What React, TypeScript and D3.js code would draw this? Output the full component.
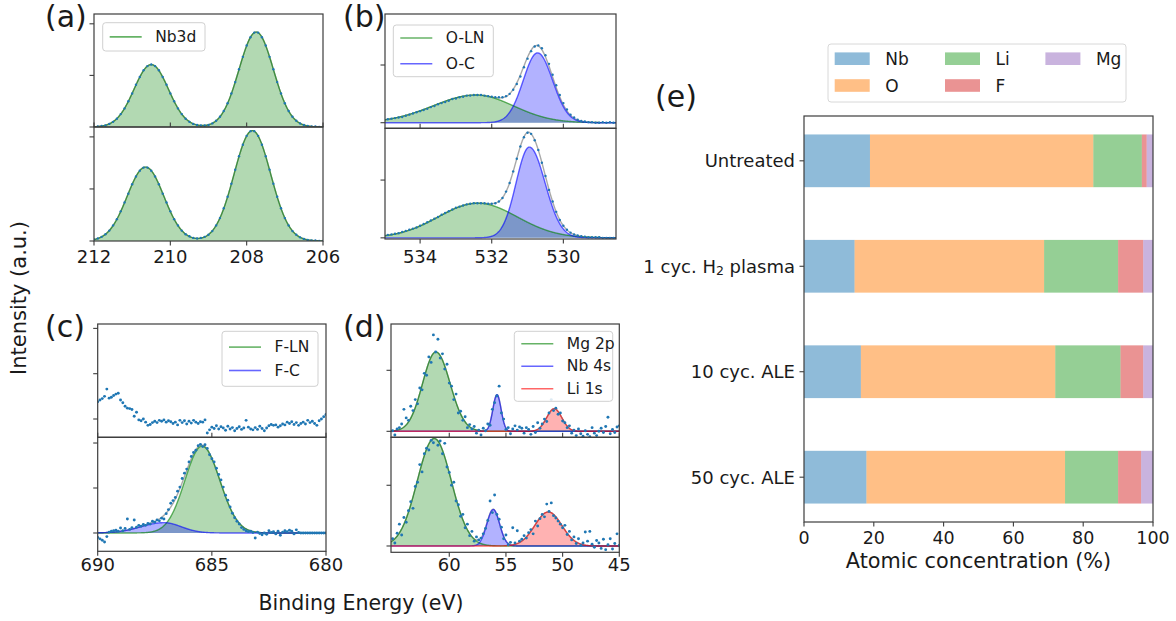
import React from 'react';
import * as d3 from 'd3';

type Peak = { c: number; h: number; sl: number; sr: number };
type Comp = { name: string; peaks: Peak[] };

// ---------------- (a) Nb 3d ----------------
const aEnergyStart = 212.0;
const aEnergyStep = 0.1;
const aXTicks = [212, 210, 208, 206];
const aTopCounts = [
  0.00, 0.01, 0.02, 0.03, 0.06, 0.10, 0.16, 0.25, 0.36, 0.50,
  0.65, 0.82, 0.97, 1.10, 1.18, 1.21, 1.18, 1.10, 0.97, 0.82,
  0.65, 0.50, 0.36, 0.25, 0.16, 0.10, 0.06, 0.04, 0.03, 0.03,
  0.04, 0.07, 0.12, 0.20, 0.31, 0.46, 0.65, 0.87, 1.12, 1.36,
  1.58, 1.74, 1.83, 1.83, 1.74, 1.58, 1.36, 1.12, 0.87, 0.65,
  0.46, 0.31, 0.20, 0.12, 0.07, 0.04, 0.02, 0.01, 0.01, 0.00,
  0.00,
];
const aBottomCounts = [
  0.03, 0.05, 0.08, 0.13, 0.20, 0.30, 0.42, 0.57, 0.74, 0.91,
  1.09, 1.24, 1.35, 1.41, 1.41, 1.35, 1.24, 1.09, 0.91, 0.74,
  0.57, 0.42, 0.30, 0.20, 0.13, 0.09, 0.06, 0.05, 0.06, 0.08,
  0.12, 0.19, 0.30, 0.44, 0.63, 0.85, 1.10, 1.37, 1.63, 1.85,
  2.02, 2.11, 2.11, 2.02, 1.85, 1.63, 1.37, 1.10, 0.85, 0.63,
  0.44, 0.30, 0.19, 0.12, 0.07, 0.04, 0.02, 0.01, 0.01, 0.00,
  0.00,
];
const aTopNb3d: Peak[] = [
  { c: 210.5, h: 1.21, sl: 0.45, sr: 0.45 },
  { c: 207.75, h: 1.84, sl: 0.45, sr: 0.45 },
];
const aBottomNb3d: Peak[] = [
  { c: 210.65, h: 1.42, sl: 0.48, sr: 0.48 },
  { c: 207.85, h: 2.12, sl: 0.48, sr: 0.48 },
];

// ---------------- (b) O 1s ----------------
const bEnergyStart = 535.0;
const bEnergyStep = 0.1;
const bXTicks = [534, 532, 530];
const bTopCounts = [
  0.05, 0.06, 0.07, 0.08, 0.09, 0.10, 0.12, 0.14, 0.16, 0.18,
  0.20, 0.22, 0.24, 0.27, 0.29, 0.32, 0.34, 0.36, 0.38, 0.41,
  0.42, 0.44, 0.45, 0.47, 0.47, 0.48, 0.48, 0.48, 0.47, 0.46,
  0.45, 0.44, 0.44, 0.44, 0.46, 0.50, 0.57, 0.67, 0.80, 0.96,
  1.11, 1.24, 1.32, 1.34, 1.29, 1.17, 1.02, 0.83, 0.65, 0.48,
  0.34, 0.23, 0.14, 0.09, 0.05, 0.03, 0.02, 0.01, 0.01, 0.00,
  0.00, 0.01, 0.00, 0.01, 0.00, 0.01,
];
const bBottomCounts = [
  0.04, 0.05, 0.06, 0.07, 0.08, 0.10, 0.12, 0.14, 0.16, 0.18,
  0.21, 0.24, 0.27, 0.30, 0.33, 0.36, 0.40, 0.43, 0.46, 0.49,
  0.52, 0.54, 0.56, 0.58, 0.59, 0.60, 0.60, 0.60, 0.60, 0.59,
  0.59, 0.60, 0.63, 0.69, 0.80, 0.95, 1.15, 1.37, 1.58, 1.74,
  1.82, 1.80, 1.69, 1.52, 1.30, 1.07, 0.83, 0.63, 0.45, 0.31,
  0.21, 0.14, 0.09, 0.06, 0.04, 0.03, 0.02, 0.01, 0.01, 0.01,
  0.01, 0.00, 0.00, 0.00, 0.00, 0.00,
];
const bTopOLN: Peak[] = [{ c: 532.44, h: 0.48, sl: 1.2, sr: 1.05 }];
const bTopOC: Peak[] = [{ c: 530.72, h: 1.21, sl: 0.40, sr: 0.42 }];
const bBottomOLN: Peak[] = [{ c: 532.39, h: 0.60, sl: 1.1, sr: 1.1 }];
const bBottomOC: Peak[] = [{ c: 530.95, h: 1.57, sl: 0.37, sr: 0.44 }];

// ---------------- (c) F 1s ----------------
const cEnergyStart = 690.0;
const cEnergyStep = 0.1;
const cXTicks = [690, 685, 680];
const cTopCounts = [
  1.38, 1.42, 1.45, 1.50, 1.66, 1.46, 1.48, 1.52, 1.55, 1.57,
  1.42, 1.36, 1.28, 1.24, 1.23, 1.21, 1.06, 1.15, 0.98, 0.96,
  1.00, 0.93, 0.86, 0.88, 0.92, 0.95, 0.92, 0.97, 0.95, 0.98,
  0.93, 0.96, 0.94, 0.90, 0.93, 0.87, 0.97, 0.92, 0.96, 0.89,
  0.95, 0.91, 0.97, 0.93, 0.90, 0.94, 0.93, 0.98, 0.69, 0.76,
  0.82, 0.79, 0.85, 0.78, 0.83, 0.80, 0.75, 0.84, 0.78, 0.81,
  0.74, 0.79, 0.83, 0.77, 0.80, 0.97, 0.82, 0.78, 0.76, 0.81,
  0.77, 0.84, 0.79, 0.74, 0.80, 0.85, 0.88, 0.86, 0.87, 0.82,
  0.85, 0.89, 0.87, 0.93, 0.90, 0.94, 0.88, 0.92, 0.86, 0.90,
  0.93, 0.89, 0.97, 0.92, 0.95, 0.90, 0.86, 0.96, 1.00, 1.05,
  1.10,
];
const cBottomCounts = [
  -0.10, -0.13, -0.16, -0.20, -0.08, 0.02, 0.04, 0.05, 0.06, 0.04,
  0.11, 0.05, 0.10, 0.31, 0.08, 0.12, 0.29, 0.13, 0.17, 0.15,
  0.19, 0.17, 0.21, 0.20, 0.26, 0.24, 0.29, 0.27, 0.33, 0.31,
  0.43, 0.52, 0.66, 0.72, 0.79, 0.93, 1.02, 1.21, 1.33, 1.42,
  1.58, 1.70, 1.79, 1.84, 1.94, 1.97, 1.92, 1.96, 1.88, 1.74,
  1.65, 1.58, 1.44, 1.30, 1.18, 1.02, 0.84, 0.73, 0.58, 0.44,
  0.34, 0.26, 0.20, 0.12, 0.08, 0.05, 0.03, 0.04, 0.01, -0.11,
  0.02, -0.01, -0.04, 0.00, -0.03, 0.05, 0.01, 0.03, -0.02, 0.04,
  -0.05, 0.02, 0.05, 0.03, 0.06, 0.04, -0.02, 0.07, 0.01, 0.00,
  0.00, 0.00, 0.00, 0.00, 0.00, 0.00, 0.00, 0.00, 0.00, 0.00,
  0.00,
];
const cBottomFLN: Peak[] = [{ c: 685.43, h: 1.93, sl: 0.75, sr: 0.78 }];
const cBottomFC: Peak[] = [{ c: 687.1, h: 0.23, sl: 1.0, sr: 0.76 }];

// ---------------- (d) Mg 2p / Nb 4s / Li 1s ----------------
const dEnergyStart = 65.0;
const dEnergyStep = 0.2;
const dXTicks = [60, 55, 50, 45];
const dTopCounts = [
  0.01, -0.06, 0.04, 0.06, 0.12, 0.36, 0.22, 0.18, 0.41, 0.34,
  0.52, 0.45, 0.71, 0.68, 0.95, 0.92, 1.22, 1.13, 1.58, 1.30,
  1.51, 1.20, 1.27, 1.02, 1.10, 0.79, 0.74, 0.52, 0.61, 0.30,
  0.33, 0.18, 0.24, 0.06, 0.11, 0.04, 0.08, -0.03, 0.02, -0.06,
  0.05, 0.01, 0.12, 0.10, 0.36, 0.47, 0.58, 0.74, 0.30, 0.20,
  0.03, 0.06, -0.04, 0.04, 0.09, 0.02, 0.07, 0.05, -0.03, 0.06,
  0.03, -0.05, 0.08, -0.02, 0.14, 0.05, 0.12, 0.20, 0.16, 0.30,
  0.52, 0.34, 0.38, 0.28, 0.30, 0.17, 0.14, 0.06, 0.09, -0.03,
  0.02, -0.07, 0.04, -0.04, -0.08, 0.01, -0.05, -0.09, 0.06, -0.03,
  -0.07, 0.00, 0.05, -0.02, 0.08, 0.23, -0.04, 0.03, -0.02, 0.07,
  0.09,
];
const dBottomCounts = [
  0.12, 0.05, 0.21, 0.36, 0.18, 0.47, 0.39, 0.58, 0.73, 0.62,
  0.98, 1.05, 1.34, 1.22, 1.52, 1.61, 1.58, 1.74, 1.70, 1.80,
  1.66, 1.73, 1.52, 1.69, 1.30, 1.21, 1.00, 1.05, 0.74, 0.68,
  0.49, 0.52, 0.30, 0.36, 0.17, 0.24, 0.08, 0.15, 0.10, 0.13,
  0.20, 0.29, 0.42, 0.74, 0.55, 0.84, 0.52, 0.44, 0.31, 0.12,
  0.18, 0.02, 0.06, 0.30, 0.05, 0.25, 0.08, 0.11, 0.17, 0.13,
  0.22, 0.27, 0.20, 0.41, 0.33, 0.45, 0.52, 0.48, 0.69, 0.57,
  0.71, 0.50, 0.46, 0.41, 0.36, 0.30, 0.34, 0.19, 0.24, 0.10,
  0.15, 0.04, 0.12, 0.01, 0.05, 0.23, 0.08, 0.24, 0.03, -0.02,
  0.09, 0.05, -0.04, 0.11, -0.06, 0.02, 0.12, -0.05, 0.04, 0.20,
  0.01,
];
const dTopMg: Peak[] = [{ c: 61.18, h: 1.30, sl: 1.17, sr: 1.25 }];
const dTopNb: Peak[] = [{ c: 55.79, h: 0.60, sl: 0.36, sr: 0.36 }];
const dTopLi: Peak[] = [{ c: 50.74, h: 0.37, sl: 0.67, sr: 0.67 }];
const dBottomMg: Peak[] = [{ c: 61.32, h: 1.77, sl: 1.5, sr: 1.5 }];
const dBottomNb: Peak[] = [{ c: 56.12, h: 0.60, sl: 0.56, sr: 0.56 }];
const dBottomLi: Peak[] = [{ c: 51.26, h: 0.56, sl: 1.19, sr: 1.19 }];

// ---------------- (e) atomic concentration ----------------
const eCategories = ['Untreated', '1 cyc. H₂ plasma', '10 cyc. ALE', '50 cyc. ALE'];
const eElements = ['Nb', 'O', 'Li', 'F', 'Mg'];
const eNb = [18.9, 14.5, 16.3, 17.9];
const eO = [64.0, 54.3, 55.7, 56.9];
const eLi = [13.9, 21.2, 18.7, 15.2];
const eF = [1.4, 7.2, 6.5, 6.6];
const eMg = [1.8, 2.8, 2.8, 3.4];
const eXTicks = [0, 20, 40, 60, 80, 100];

// ---------------- styles ----------------
const FONT = "'DejaVu Sans', sans-serif";
const COMP_COLORS = ['#008000', '#0000ff', '#ff0000'];
const ELEMENT_COLORS = ['#1f77b4', '#ff7f0e', '#2ca02c', '#d62728', '#9467bd'];
const FRAME = '#3c3c3c';
const DOT = '#1f77b4';
const TEXT = '#1a1a1a';

function peakValue(e: number, p: Peak) {
  const s = e > p.c ? p.sl : p.sr;
  const z = (e - p.c) / s;
  return p.h * Math.exp(-0.5 * z * z);
}
function compValue(e: number, peaks: Peak[]) {
  return peaks.reduce((acc, p) => acc + peakValue(e, p), 0);
}

type Row = {
  top: number;
  bottom: number;
  yDomain: [number, number];
  yTicks: number[];
  counts: number[];
  comps: Comp[];
};
type XpsPanel = {
  key: string;
  left: number;
  right: number;
  xDomain: [number, number];
  xTicks: number[];
  start: number;
  step: number;
  rows: Row[];
  legend: { x: number; y: number; w: number; h: number; names: string[]; rowGap: number };
  labelY: number;
  dotR: number;
};

const panels: XpsPanel[] = [
  {
    key: 'a', left: 94, right: 323, xDomain: [212, 206], xTicks: aXTicks,
    start: aEnergyStart, step: aEnergyStep, labelY: 263, dotR: 1.2,
    rows: [
      { top: 14, bottom: 127, yDomain: [0, 2.19], yTicks: [0, 1, 2], counts: aTopCounts, comps: [{ name: 'Nb3d', peaks: aTopNb3d }] },
      { top: 127, bottom: 241, yDomain: [0, 2.19], yTicks: [0, 1, 2], counts: aBottomCounts, comps: [{ name: 'Nb3d', peaks: aBottomNb3d }] },
    ],
    legend: { x: 102.7, y: 22.7, w: 102.3, h: 28.3, names: ['Nb3d'], rowGap: 0 },
  },
  {
    key: 'b', left: 385, right: 616, xDomain: [534.98, 528.53], xTicks: bXTicks,
    start: bEnergyStart, step: bEnergyStep, labelY: 263, dotR: 1.2,
    rows: [
      { top: 14, bottom: 128.3, yDomain: [-0.097, 1.884], yTicks: [0, 1], counts: bTopCounts,
        comps: [{ name: 'O-LN', peaks: bTopOLN }, { name: 'O-C', peaks: bTopOC }] },
      { top: 128.3, bottom: 239, yDomain: [-0.02, 1.896], yTicks: [0, 1], counts: bBottomCounts,
        comps: [{ name: 'O-LN', peaks: bBottomOLN }, { name: 'O-C', peaks: bBottomOC }] },
    ],
    legend: { x: 393.3, y: 25, w: 100, h: 51.7, names: ['O-LN', 'O-C'], rowGap: 25.7 },
  },
  {
    key: 'c', left: 97.7, right: 326, xDomain: [690, 680], xTicks: cXTicks,
    start: cEnergyStart, step: cEnergyStep, labelY: 570.5, dotR: 1.45,
    rows: [
      { top: 324, bottom: 437.3, yDomain: [0.596, 3.097], yTicks: [1, 2, 3], counts: cTopCounts, comps: [] },
      { top: 437.3, bottom: 551.3, yDomain: [-0.407, 2.127], yTicks: [0, 1, 2], counts: cBottomCounts,
        comps: [{ name: 'F-LN', peaks: cBottomFLN }, { name: 'F-C', peaks: cBottomFC }] },
    ],
    legend: { x: 222, y: 331.3, w: 96, h: 55, names: ['F-LN', 'F-C'], rowGap: 23.4 },
  },
  {
    key: 'd', left: 391, right: 619.3, xDomain: [65.14, 45], xTicks: dXTicks,
    start: dEnergyStart, step: dEnergyStep, labelY: 570.5, dotR: 1.45,
    rows: [
      { top: 324, bottom: 437.3, yDomain: [-0.098, 1.759], yTicks: [0, 1], counts: dTopCounts,
        comps: [{ name: 'Mg 2p', peaks: dTopMg }, { name: 'Nb 4s', peaks: dTopNb }, { name: 'Li 1s', peaks: dTopLi }] },
      { top: 437.3, bottom: 552.3, yDomain: [-0.104, 1.79], yTicks: [0, 1], counts: dBottomCounts,
        comps: [{ name: 'Mg 2p', peaks: dBottomMg }, { name: 'Nb 4s', peaks: dBottomNb }, { name: 'Li 1s', peaks: dBottomLi }] },
    ],
    legend: { x: 514.3, y: 331.3, w: 98.4, h: 70, names: ['Mg 2p', 'Nb 4s', 'Li 1s'], rowGap: 22.5 },
  },
];

function Subplot({ panel, row, idx }: { panel: XpsPanel; row: Row; idx: number }) {
  const xs = d3.scaleLinear().domain(panel.xDomain).range([panel.left, panel.right]);
  const ys = d3.scaleLinear().domain(row.yDomain).range([row.bottom, row.top]);
  const grid = d3.range(0, 601).map((i) => panel.xDomain[0] + ((panel.xDomain[1] - panel.xDomain[0]) * i) / 600);
  const clipId = `clip-${panel.key}-${idx}`;
  const isBottom = idx === panel.rows.length - 1;
  const points = row.counts.map((v, i) => [panel.start - i * panel.step, v] as [number, number]);
  const envelope = (e: number) => row.comps.reduce((acc, c) => acc + compValue(e, c.peaks), 0);
  const lineGen = (f: (e: number) => number) =>
    d3.line<number>().x((e) => xs(e)).y((e) => ys(f(e)))(grid) || '';
  const areaGen = (f: (e: number) => number) =>
    d3.area<number>().x((e) => xs(e)).y0(ys(0)).y1((e) => ys(f(e)))(grid) || '';
  return (
    <g>
      <defs>
        <clipPath id={clipId}>
          <rect x={panel.left} y={row.top} width={panel.right - panel.left} height={row.bottom - row.top} />
        </clipPath>
      </defs>
      <g clipPath={`url(#${clipId})`}>
        {row.comps.map((c, k) => (
          <path key={`a${k}`} d={areaGen((e) => compValue(e, c.peaks))} fill={COMP_COLORS[k]} fillOpacity={0.3} stroke="none" />
        ))}
        {row.comps.length > 0 && (
          <path d={lineGen(envelope)} fill="none" stroke="#8c8c8c" strokeOpacity={0.75} strokeWidth={1.4} />
        )}
        {row.comps.map((c, k) => (
          <path key={`l${k}`} d={lineGen((e) => compValue(e, c.peaks))} fill="none" stroke={COMP_COLORS[k]} strokeOpacity={0.6} strokeWidth={1.4} />
        ))}
        {points.map(([e, v], i) => (
          <circle key={i} cx={xs(e)} cy={ys(v)} r={panel.dotR} fill={DOT} />
        ))}
      </g>
      <rect x={panel.left} y={row.top} width={panel.right - panel.left} height={row.bottom - row.top} fill="none" stroke={FRAME} strokeWidth={1.2} />
      {row.yTicks.map((t) => (
        <line key={`yt${t}`} x1={panel.left - 4.5} x2={panel.left} y1={ys(t)} y2={ys(t)} stroke={FRAME} strokeWidth={1.1} />
      ))}
      {panel.xTicks.map((t) => (
        <line key={`xt${t}`} x1={xs(t)} x2={xs(t)} y1={row.bottom} y2={isBottom ? row.bottom + 4.5 : row.bottom - 4.5} stroke={FRAME} strokeWidth={1.1} />
      ))}
      {isBottom &&
        panel.xTicks.map((t) => (
          <text key={`xl${t}`} x={xs(t)} y={panel.labelY} textAnchor="middle" fontSize={18} fill={TEXT}>
            {t}
          </text>
        ))}
    </g>
  );
}

function XpsLegend({ panel }: { panel: XpsPanel }) {
  const L = panel.legend;
  const n = L.names.length;
  const firstY = n === 1 ? L.y + L.h / 2 : L.y + (L.h - (n - 1) * L.rowGap) / 2;
  return (
    <g>
      <rect x={L.x} y={L.y} width={L.w} height={L.h} rx={3} fill="#fff" fillOpacity={0.85} stroke="#d0d0d0" strokeWidth={1} />
      {L.names.map((name, k) => {
        const y = firstY + k * L.rowGap;
        return (
          <g key={name}>
            <line x1={L.x + 7} x2={L.x + 39} y1={y} y2={y} stroke={COMP_COLORS[k]} strokeOpacity={0.6} strokeWidth={1.6} />
            <text x={L.x + 52.5} y={y} dominantBaseline="central" fontSize={15.5} fill={TEXT}>
              {name}
            </text>
          </g>
        );
      })}
    </g>
  );
}

function CategoryLabel({ label, x, y }: { label: string; x: number; y: number }) {
  if (label.includes('₂')) {
    const [a, b] = label.split('₂');
    return (
      <text x={x} y={y} textAnchor="end" dominantBaseline="central" fontSize={18} fill={TEXT}>
        {a}
        <tspan fontSize={12.5} dy={4}>2</tspan>
        <tspan dy={-4}>{b}</tspan>
      </text>
    );
  }
  return (
    <text x={x} y={y} textAnchor="end" dominantBaseline="central" fontSize={18} fill={TEXT}>
      {label}
    </text>
  );
}

function BarPanel() {
  const left = 804, right = 1153, top = 116, bottom = 522;
  const xE = d3.scaleLinear().domain([0, 100]).range([left, right]);
  const yE = d3.scaleLinear().domain([-0.425, 3.425]).range([top, bottom]);
  const barH = yE(0.5) - yE(0);
  const valueLists = [eNb, eO, eLi, eF, eMg];
  const table = eCategories.map((cat, i) => {
    const row: Record<string, number | string> = { cat };
    eElements.forEach((el, k) => (row[el] = valueLists[k][i]));
    return row;
  });
  const stacked = d3.stack<Record<string, number | string>>().keys(eElements)(table as any);
  const legendCols = [
    { x: 834.7, items: [0, 1] },
    { x: 945, items: [2, 3] },
    { x: 1045.4, items: [4] },
  ];
  const rowsY = [58.7, 85.5];
  return (
    <g>
      <rect x={left} y={top} width={right - left} height={bottom - top} fill="#fff" />
      {stacked.map((s, k) => (
        <g key={s.key}>
          {s.map((d, i) => (
            <rect key={i} x={xE(d[0])} y={yE(i) - barH / 2} width={xE(d[1]) - xE(d[0])} height={barH} fill={ELEMENT_COLORS[k]} fillOpacity={0.5} />
          ))}
        </g>
      ))}
      <rect x={left} y={top} width={right - left} height={bottom - top} fill="none" stroke={FRAME} strokeWidth={1.2} />
      {eXTicks.map((t) => (
        <g key={t}>
          <line x1={xE(t)} x2={xE(t)} y1={bottom} y2={bottom + 4.5} stroke={FRAME} strokeWidth={1.1} />
          <text x={xE(t)} y={543.5} textAnchor="middle" fontSize={17.5} fill={TEXT}>
            {t}
          </text>
        </g>
      ))}
      {eCategories.map((c, i) => (
        <g key={c}>
          <line x1={left - 4.5} x2={left} y1={yE(i)} y2={yE(i)} stroke={FRAME} strokeWidth={1.1} />
          <CategoryLabel label={c} x={left - 9} y={yE(i)} />
        </g>
      ))}
      <text x={(left + right) / 2} y={568} textAnchor="middle" fontSize={20.8} fill={TEXT}>
        Atomic concentration (%)
      </text>
      <rect x={828} y={44} width={298} height={58} rx={3} fill="#fff" stroke="#d8d8d8" strokeWidth={1} />
      {legendCols.map((col) =>
        col.items.map((k, r) => (
          <g key={eElements[k]}>
            <rect x={col.x} y={rowsY[r] - 6.3} width={35} height={12.6} fill={ELEMENT_COLORS[k]} fillOpacity={0.5} />
            <text x={col.x + 50.5} y={rowsY[r]} dominantBaseline="central" fontSize={17} fill={TEXT}>
              {eElements[k]}
            </text>
          </g>
        ))
      )}
      <text x={655} y={107} fontSize={30} fill={TEXT}>(e)</text>
    </g>
  );
}

export default function App() {
  return (
    <svg
      width={1176}
      height={621}
      viewBox="0 0 1176 621"
      style={{ position: 'absolute', left: 0, top: 0, background: '#fff', display: 'block' }}
      fontFamily={FONT}
    >
      <rect x={0} y={0} width={1176} height={621} fill="#fff" />
      {panels.map((p) => (
        <g key={p.key}>
          {p.rows.map((r, i) => (
            <Subplot key={i} panel={p} row={r} idx={i} />
          ))}
          <XpsLegend panel={p} />
        </g>
      ))}
      <text x={45} y={26.5} fontSize={30} fill={TEXT}>(a)</text>
      <text x={343} y={26.5} fontSize={30} fill={TEXT}>(b)</text>
      <text x={45} y={337} fontSize={30} fill={TEXT}>(c)</text>
      <text x={343} y={337} fontSize={30} fill={TEXT}>(d)</text>
      <text transform="translate(25.5,298) rotate(-90)" textAnchor="middle" fontSize={21} fill={TEXT}>
        Intensity (a.u.)
      </text>
      <text x={361} y={610} textAnchor="middle" fontSize={20.5} fill={TEXT}>
        Binding Energy (eV)
      </text>
      <BarPanel />
    </svg>
  );
}
